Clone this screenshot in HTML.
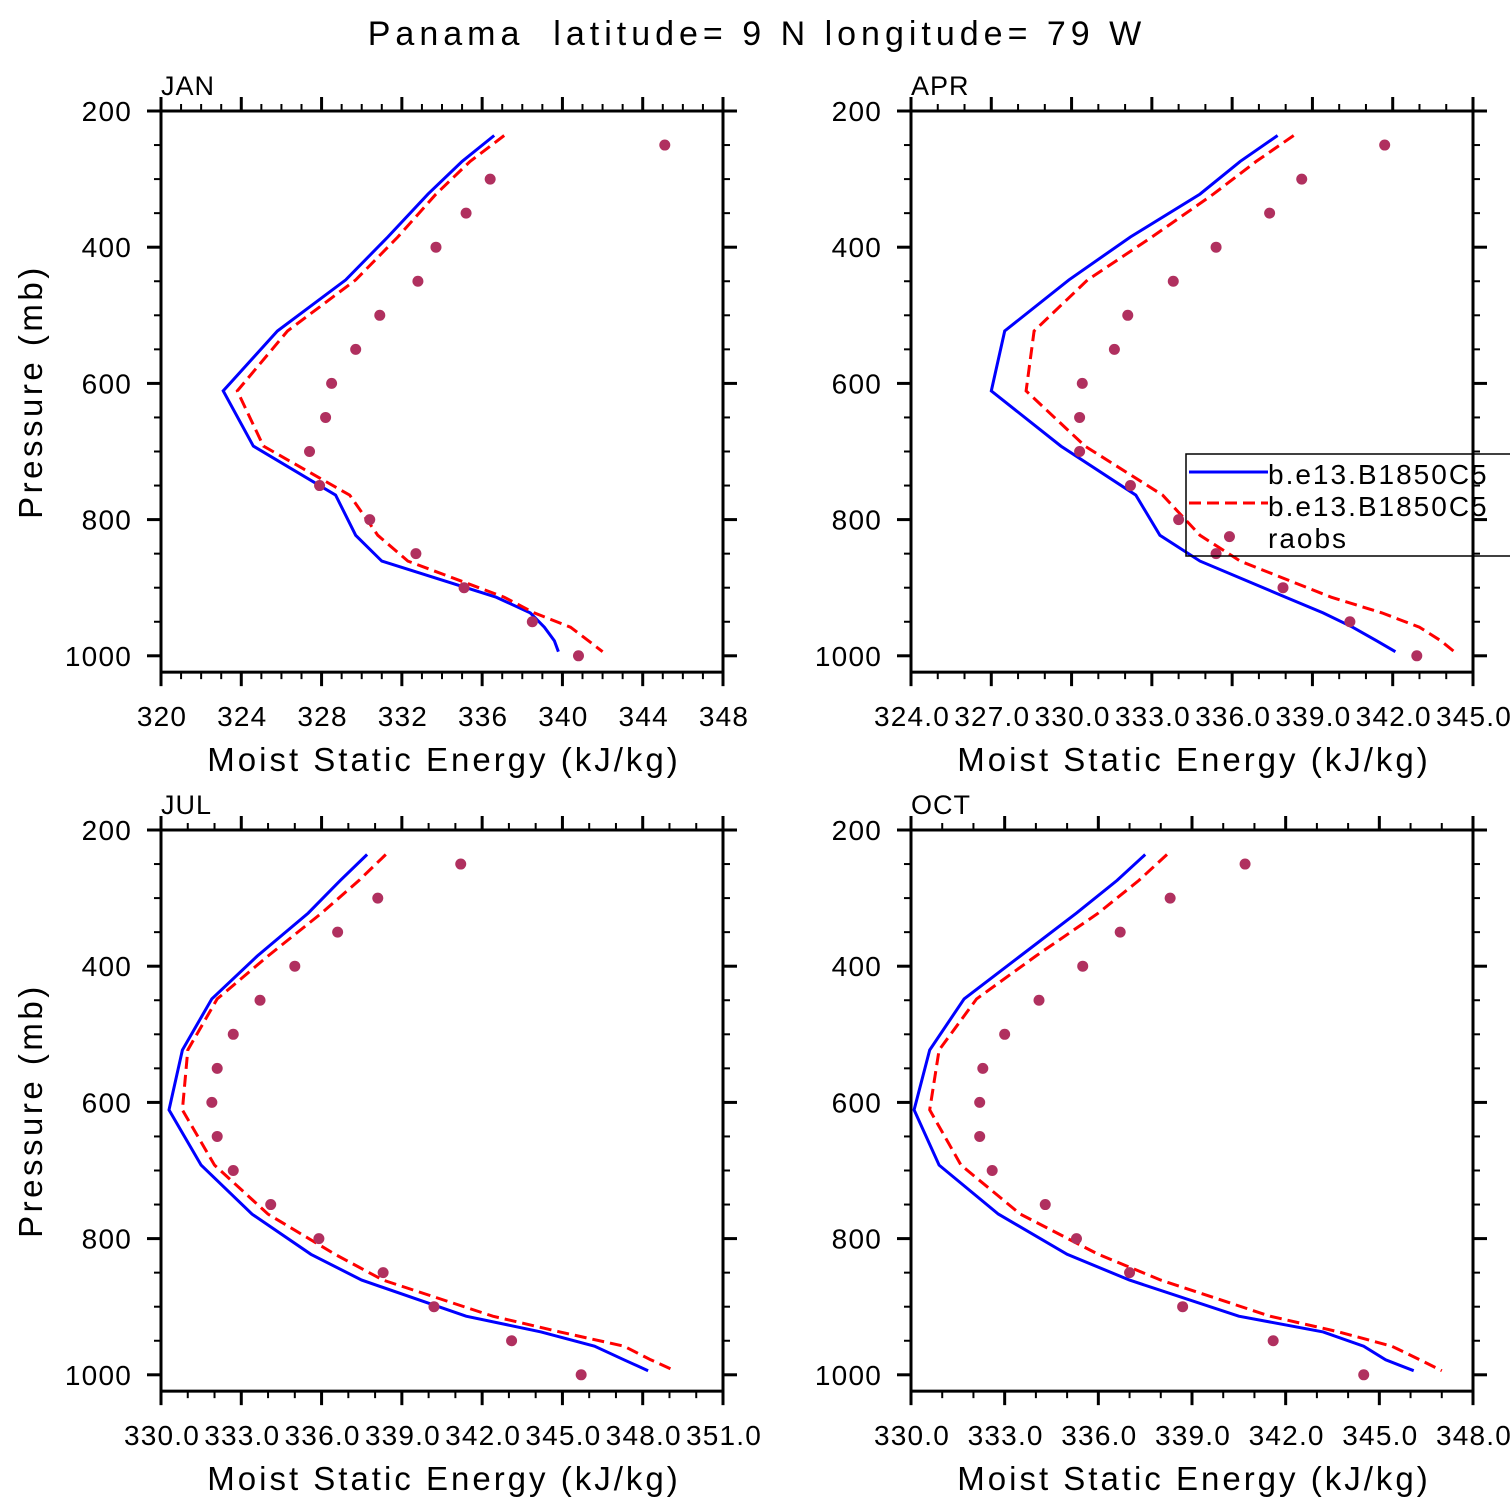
<!DOCTYPE html>
<html><head><meta charset="utf-8"><style>
html,body{margin:0;padding:0;background:#fff;}
svg{display:block;font-family:"Liberation Sans","DejaVu Sans",sans-serif;}
text{white-space:pre;}
</style></head><body>
<svg id="chart" width="1510" height="1510" viewBox="0 0 1510 1510" xmlns="http://www.w3.org/2000/svg">
<text x="757" y="45" font-size="34" text-anchor="middle" letter-spacing="5" xml:space="preserve">Panama  latitude= 9 N longitude= 79 W</text>
</svg>
<script>
const modelLevels=[236,274,322,385,448,523,611,692,764,823,861,914,937,958,978,994];
const raobLevels=[250,300,350,400,450,500,550,600,650,700,750,800,850,900,950,1000];
const raobLevelsApr=[250,300,350,400,450,500,550,600,650,700,750,800,825,850,900,950,1000];
const janBlue=[336.6,335.0,333.3,331.3,329.2,325.8,323.1,324.6,328.7,329.7,331.0,336.7,338.4,339.1,339.6,339.8];
const janRed=[337.1,335.4,333.7,331.8,329.7,326.3,323.8,325.1,329.4,330.8,332.3,337.1,338.6,340.4,341.3,342.0];
const janRaob=[345.1,336.4,335.2,333.7,332.8,330.9,329.7,328.5,328.2,327.4,327.9,330.4,332.7,335.1,338.5,340.8];
const aprBlue=[337.7,336.3,334.8,332.2,329.9,327.5,327.0,329.6,332.4,333.3,334.8,338.0,339.4,340.5,341.4,342.1];
const aprRed=[338.3,336.9,335.3,333.0,330.6,328.6,328.3,330.5,333.4,334.8,336.3,339.7,341.6,343.0,343.8,344.3];
const aprRaob=[341.7,338.6,337.4,335.4,333.8,332.1,331.6,330.4,330.3,330.3,332.2,334.0,335.9,335.4,337.9,340.4,342.9];
const julBlue=[337.7,336.7,335.5,333.6,331.9,330.8,330.3,331.5,333.4,335.6,337.5,341.4,344.2,346.2,347.3,348.2];
const julRed=[338.4,337.4,336.0,334.0,332.1,331.0,330.8,332.0,334.0,336.5,338.3,342.4,344.9,347.3,348.3,349.2];
const julRaob=[341.2,338.1,336.6,335.0,333.7,332.7,332.1,331.9,332.1,332.7,334.1,335.9,338.3,340.2,343.1,345.7];
const octBlue=[337.5,336.6,335.3,333.5,331.7,330.6,330.1,330.9,332.8,335.0,337.0,340.5,343.2,344.5,345.2,346.1];
const octRed=[338.2,337.3,336.0,334.0,332.1,330.9,330.6,331.6,333.5,336.0,338.0,341.5,343.7,345.4,346.3,347.0];
const octRaob=[340.7,338.3,336.7,335.5,334.1,333.0,332.3,332.2,332.2,332.6,334.3,335.3,337.0,338.7,341.6,344.5];
const janTicks=[320,324,328,332,336,340,344,348];
const aprTicks=[324,327,330,333,336,339,342,345];
const julTicks=[330,333,336,339,342,345,348,351];
const octTicks=[330,333,336,339,342,345,348];
const yTicks=[200,400,600,800,1000];

const NS="http://www.w3.org/2000/svg";
const svg=document.getElementById('chart');
function mk(tag,attrs,parent){const e=document.createElementNS(NS,tag);for(const k in attrs)e.setAttribute(k,attrs[k]);(parent||svg).appendChild(e);return e;}

const panels=[
 {name:'jan',label:'JAN',x0:161,y0:111,ticks:janTicks,minor:4,dec:0,blue:janBlue,red:janRed,raob:janRaob,rl:raobLevels,ylab:true},
 {name:'apr',label:'APR',x0:911,y0:111,ticks:aprTicks,minor:3,dec:1,blue:aprBlue,red:aprRed,raob:aprRaob,rl:raobLevelsApr,ylab:false,legend:true},
 {name:'jul',label:'JUL',x0:161,y0:830,ticks:julTicks,minor:3,dec:1,blue:julBlue,red:julRed,raob:julRaob,rl:raobLevels,ylab:true},
 {name:'oct',label:'OCT',x0:911,y0:830,ticks:octTicks,minor:3,dec:1,blue:octBlue,red:octRed,raob:octRaob,rl:raobLevels,ylab:false}
];
const W=562, PPM=0.681, PMAX=1024;
panels.forEach(p=>{
  const g=mk('g',{});
  
  
  const xmin=p.ticks[0], xmax=p.ticks[p.ticks.length-1];
  const sx=v=>p.x0+(v-xmin)/(xmax-xmin)*W;
  const sy=v=>p.y0+(v-200)*PPM;
  const yb=sy(PMAX);
  const mkLine=(vals,color,dash,nm)=>{
    const d=vals.map((v,i)=>(i?'L':'M')+sx(v).toFixed(1)+','+sy(modelLevels[i]).toFixed(1)).join('');
    const a={d:d,fill:'none',stroke:color,'stroke-width':3};
    if(dash)a['stroke-dasharray']=dash;
    const l=mk('path',a,g);
    
    
  };
  mkLine(p.blue,'#0000ff',null,p.name+'-model-line-1');
  mkLine(p.red,'#ff0000','12,6',p.name+'-model-line-2');
  p.raob.forEach((v,i)=>{
    const c=mk('circle',{cx:sx(v),cy:sy(p.rl[i]),r:5.5,fill:'#b0305f'},g);
    
    
  });
  const fr=mk('rect',{x:p.x0,y:p.y0,width:W,height:yb-p.y0,fill:'none',stroke:'#000','stroke-width':3},g);
  
  
  const step=p.ticks[1]-p.ticks[0];
  for(let i=0;i<p.ticks.length;i++){
    const x=sx(p.ticks[i]);
    mk('line',{x1:x,y1:yb,x2:x,y2:yb+14,stroke:'#000','stroke-width':3},g);
    mk('line',{x1:x,y1:p.y0,x2:x,y2:p.y0-14,stroke:'#000','stroke-width':3},g);
    const t=mk('text',{x:x+1,y:yb+54,'font-size':28,'text-anchor':'middle','letter-spacing':1.2},g);
    
    
    t.textContent=p.ticks[i].toFixed(p.dec);
    if(i<p.ticks.length-1){
      for(let m=1;m<p.minor;m++){
        const xm=sx(p.ticks[i]+step*m/p.minor);
        mk('line',{x1:xm,y1:yb,x2:xm,y2:yb+7,stroke:'#000','stroke-width':2},g);
        mk('line',{x1:xm,y1:p.y0,x2:xm,y2:p.y0-7,stroke:'#000','stroke-width':2},g);
      }
    }
  }
  for(let v=200;v<=1000;v+=50){
    const y=sy(v), major=yTicks.includes(v), L=major?14:7;
    mk('line',{x1:p.x0,y1:y,x2:p.x0-L,y2:y,stroke:'#000','stroke-width':major?3:2},g);
    mk('line',{x1:p.x0+W,y1:y,x2:p.x0+W+L,y2:y,stroke:'#000','stroke-width':major?3:2},g);
  }
  yTicks.forEach(v=>{
    const t=mk('text',{x:p.x0-29,y:sy(v)+10,'font-size':28,'text-anchor':'end','letter-spacing':1.2},g);
    
    
    t.textContent=v;
  });
  const pl=mk('text',{x:p.x0,y:p.y0-16,'font-size':27,'letter-spacing':1},g);
  
  
  pl.textContent=p.label;
  const xt=mk('text',{x:p.x0+W/2+2,y:yb+99,'font-size':33,'text-anchor':'middle','letter-spacing':3},g);
  
  
  xt.textContent='Moist Static Energy (kJ/kg)';
  if(p.ylab){
    const cy=(p.y0+yb)/2;
    const yt=mk('text',{x:42,y:cy,'font-size':33,'text-anchor':'middle','letter-spacing':3.5,transform:'rotate(-90 42 '+cy+')'},g);
    
    
    yt.textContent='Pressure (mb)';
  }
  if(p.legend){
    const lg=mk('g',{},g);
    
    
    mk('rect',{x:1186,y:454,width:340,height:102,fill:'none',stroke:'#000','stroke-width':1.5},lg);
    mk('line',{x1:1189,y1:472,x2:1268,y2:472,stroke:'#0000ff','stroke-width':3},lg);
    mk('line',{x1:1189,y1:503,x2:1268,y2:503,stroke:'#ff0000','stroke-width':3,'stroke-dasharray':'12,6'},lg);
    const names=['b.e13.B1850C5','b.e13.B1850C5','raobs'];
    names.forEach((n,i)=>{
      const t=mk('text',{x:1268,y:484+i*32,'font-size':28,'letter-spacing':2},lg);
      
      
      t.textContent=n;
    });
  }
});
</script>
</body></html>
